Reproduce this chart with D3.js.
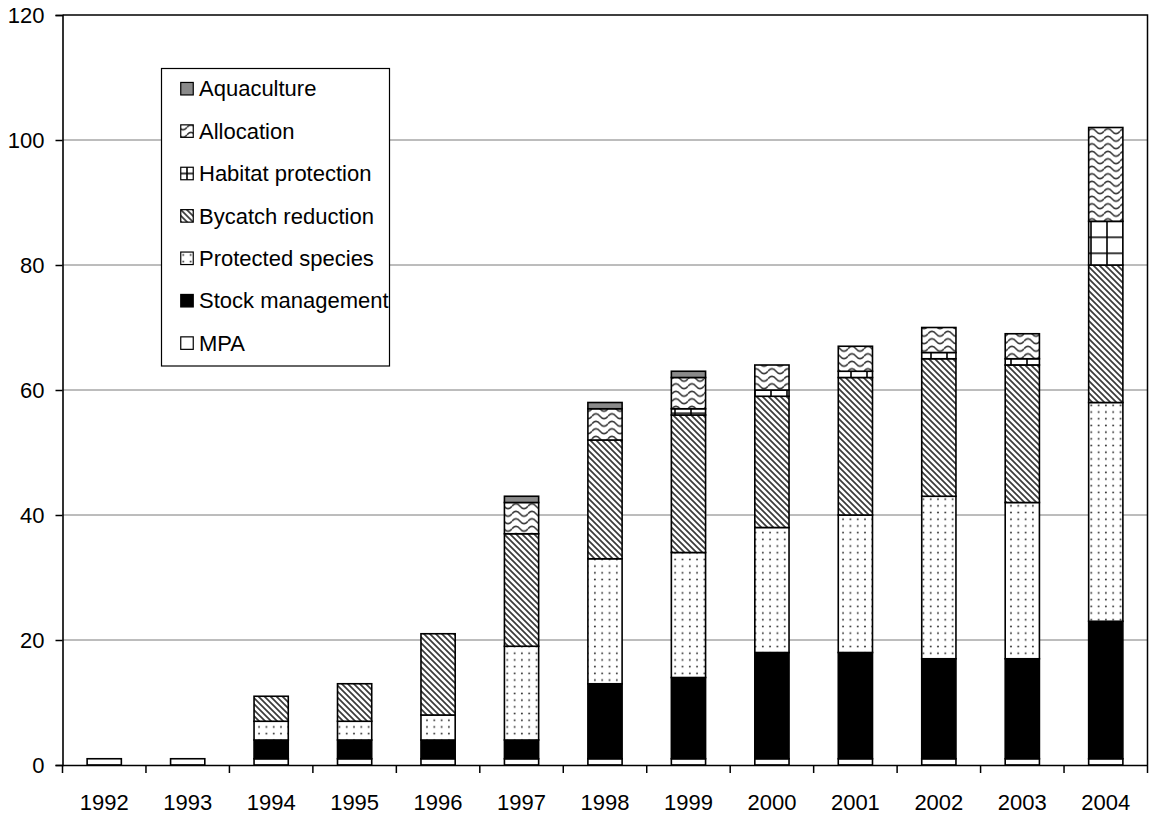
<!DOCTYPE html>
<html>
<head>
<meta charset="utf-8">
<script src="https://cdn.jsdelivr.net/npm/d3@7"></script>
<style>
  html, body { margin: 0; padding: 0; background: #fff; }
  svg { display: block; font-family: "Liberation Sans", Arial, sans-serif; }
</style>
</head>
<body>
<svg id="chart" width="1150" height="820"></svg>
<script>
// Number of fishery projects by issue, stacked per year
const years = ["1992","1993","1994","1995","1996","1997","1998","1999","2000","2001","2002","2003","2004"];
const seriesNames = ["MPA","Stock management","Protected species","Bycatch reduction","Habitat protection","Allocation","Aquaculture"];

const mpa         = [1, 1, 1, 1, 1, 1, 1, 1, 1, 1, 1, 1, 1];
const stock       = [0, 0, 3, 3, 3, 3, 12, 13, 17, 17, 16, 16, 22];
const protectedSp = [0, 0, 3, 3, 4, 15, 20, 20, 20, 22, 26, 25, 35];
const bycatch     = [0, 0, 4, 6, 13, 18, 19, 22, 21, 22, 22, 22, 22];
const habitat     = [0, 0, 0, 0, 0, 0, 0, 1, 1, 1, 1, 1, 7];
const allocation  = [0, 0, 0, 0, 0, 5, 5, 5, 4, 4, 4, 4, 15];
const aquaculture = [0, 0, 0, 0, 0, 1, 1, 1, 0, 0, 0, 0, 0];

const yTicks = [0, 20, 40, 60, 80, 100, 120];

const seriesValues = [mpa, stock, protectedSp, bycatch, habitat, allocation, aquaculture];

// Table for the stack layout
const table = years.map((yr, j) => {
  const row = { year: yr };
  seriesNames.forEach((s, i) => { row[s] = seriesValues[i][j]; });
  return row;
});

const svg = d3.select("#chart");
const plot = { left: 62.5, right: 1147.5, top: 15, bottom: 765 };
const FONT = 22;

const x = d3.scaleBand().domain(years).range([plot.left, plot.right]).paddingInner(0).paddingOuter(0);
const y = d3.scaleLinear().domain([0, 120]).range([plot.bottom, plot.top]);
const barW = x.bandwidth() * 0.41;

// ---- fill patterns ----
const defs = svg.append("defs");

function pattern(id, w, h, px, py) {
  const p = defs.append("pattern")
    .attr("id", id)
    .attr("patternUnits", "userSpaceOnUse")
    .attr("width", w).attr("height", h)
    .attr("x", px || 0).attr("y", py || 0);
  p.append("rect").attr("width", w).attr("height", h).attr("fill", "#fff");
  return p;
}

// sparse dots
const pd = pattern("pat-dots", 7.3, 6.7, 0, 0);
pd.append("circle").attr("cx", 3.6).attr("cy", 3.3).attr("r", 0.95).attr("fill", "#333");

// downward diagonal stripes
const pb = pattern("pat-diag", 6, 6, 0, 0);
pb.append("path")
  .attr("d", "M0,0L6,6M-3,3L3,9M3,-3L9,3")
  .attr("stroke", "#3a3a3a").attr("stroke-width", 1.7).attr("fill", "none");

// large grid
function gridPattern(id, px, py) {
  const pg = pattern(id, 16, 16, px, py);
  pg.append("path")
    .attr("d", "M0,8H16M8,0V16")
    .attr("stroke", "#000").attr("stroke-width", 1.6).attr("fill", "none");
}
gridPattern("pat-grid", 11, 5.3);
gridPattern("pat-grid-key", -8, -8);

// waves
const pw = pattern("pat-wave", 16, 7.5, 0, 0);
pw.append("path")
  .attr("d", "M0,3.75 Q4,-1.25 8,3.75 T16,3.75")
  .attr("stroke", "#333").attr("stroke-width", 1.5).attr("fill", "none");

const fills = {
  "MPA": "#ffffff",
  "Stock management": "#000000",
  "Protected species": "url(#pat-dots)",
  "Bycatch reduction": "url(#pat-diag)",
  "Habitat protection": "url(#pat-grid)",
  "Allocation": "url(#pat-wave)",
  "Aquaculture": "#8a8a8a"
};
const keyFills = Object.assign({}, fills, { "Habitat protection": "url(#pat-grid-key)" });

// ---- gridlines ----
svg.append("g")
  .selectAll("line")
  .data(yTicks.filter(t => t > 0 && t < 120))
  .join("line")
  .attr("x1", plot.left).attr("x2", plot.right)
  .attr("y1", d => y(d)).attr("y2", d => y(d))
  .attr("stroke", "#7a7a7a").attr("stroke-width", 1);

// plot frame (top and right)
svg.append("path")
  .attr("d", `M${plot.left},${y(120)}H${plot.right}V${plot.bottom}`)
  .attr("fill", "none").attr("stroke", "#000").attr("stroke-width", 1.5);

// ---- stacked bars ----
const stacked = d3.stack().keys(seriesNames)(table);

const layers = svg.append("g").selectAll("g")
  .data(stacked)
  .join("g")
  .attr("fill", d => fills[d.key]);

layers.selectAll("rect")
  .data(d => d.filter(seg => seg[1] - seg[0] > 0))
  .join("rect")
  .attr("x", d => x(d.data.year) + (x.bandwidth() - barW) / 2)
  .attr("width", barW)
  .attr("y", d => y(d[1]))
  .attr("height", d => y(d[0]) - y(d[1]))
  .attr("stroke", "#000")
  .attr("stroke-width", 1.6);

// ---- y axis ----
const yAxis = svg.append("g")
  .attr("transform", `translate(${plot.left},0)`)
  .call(d3.axisLeft(y).tickValues(yTicks).tickSize(7).tickPadding(11));
yAxis.select(".domain").attr("stroke-width", 1.6);
yAxis.selectAll(".tick line").attr("stroke-width", 1.5);
yAxis.selectAll("text").attr("font-size", FONT).attr("fill", "#000")
  .style("font-family", '"Liberation Sans", Arial, sans-serif');

// ---- x axis ----
const xAxis = svg.append("g")
  .attr("transform", `translate(0,${plot.bottom})`)
  .call(d3.axisBottom(x).tickSize(0).tickPadding(29));
xAxis.select(".domain").attr("stroke-width", 1.6);
xAxis.selectAll("text").attr("font-size", FONT).attr("fill", "#000")
  .style("font-family", '"Liberation Sans", Arial, sans-serif');

// tick marks between categories
const boundaries = years.map(yr => x(yr)).concat([x(years[years.length - 1]) + x.bandwidth()]);
xAxis.append("g")
  .selectAll("line")
  .data(boundaries)
  .join("line")
  .attr("x1", d => d).attr("x2", d => d)
  .attr("y1", 0).attr("y2", 8)
  .attr("stroke", "#000").attr("stroke-width", 1.5);

// ---- legend ----
const legend = svg.append("g");
legend.append("rect")
  .attr("x", 161.5).attr("y", 68.5)
  .attr("width", 228).attr("height", 297.5)
  .attr("fill", "#fff").attr("stroke", "#000").attr("stroke-width", 1.2);

const keyOrder = seriesNames.slice().reverse();
const items = legend.selectAll("g.item")
  .data(keyOrder)
  .join("g")
  .attr("class", "item")
  .attr("transform", (d, i) => `translate(187,${88.7 + i * 42.4})`);

items.append("rect")
  .attr("x", -6.25).attr("y", -6.25)
  .attr("width", 12.5).attr("height", 12.5)
  .attr("fill", d => keyFills[d])
  .attr("stroke", "#000").attr("stroke-width", 1.2);

items.append("text")
  .attr("x", 12)
  .attr("dy", "0.35em")
  .attr("font-size", FONT)
  .attr("fill", "#000")
  .text(d => d);
</script>
</body>
</html>
